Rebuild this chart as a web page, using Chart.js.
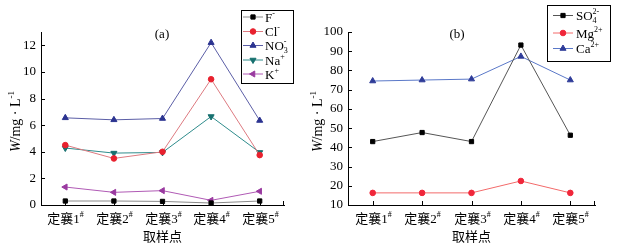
<!DOCTYPE html>
<html>
<head>
<meta charset="utf-8">
<script src="https://cdn.jsdelivr.net/npm/chart.js@4.4.1/dist/chart.umd.min.js"></script>
<style>
  html, body { margin: 0; padding: 0; background: #fff; }
  #wrap { position: relative; width: 618px; height: 249px; }
  .box { position: absolute; top: 0; width: 309px; height: 249px; }
</style>
</head>
<body>
<div id="wrap">
  <div class="box" style="left:0"><canvas id="chartA" width="309" height="249"></canvas></div>
  <div class="box" style="left:309px"><canvas id="chartB" width="309" height="249"></canvas></div>
</div>
<script>
// sampling points
const categories = ['定襄1#', '定襄2#', '定襄3#', '定襄4#', '定襄5#'];

// (a) W / mg·L-1
const fValues   = [0.3, 0.3, 0.27, 0.15, 0.3];
const clValues  = [4.5, 3.5, 4.0, 9.45, 3.75];
const no3Values = [6.55, 6.4, 6.5, 12.2, 6.35];
const naValues  = [4.28, 3.9, 3.95, 6.65, 3.95];
const kValues   = [1.35, 0.95, 1.08, 0.35, 1.03];
const ticksA = [0, 2, 4, 6, 8, 10, 12];
const namesA = [['F', '', '-'], ['Cl', '', '-'], ['NO', '3', '-'], ['Na', '', '+'], ['K', '', '+']];

// (b) W / mg·L-1
const so4Values = [43, 47.7, 43, 93.2, 46.3];
const mgValues  = [16.3, 16.3, 16.3, 22.5, 16.3];
const caValues  = [74.5, 75, 75.5, 87.3, 75];
const ticksB = [10, 20, 30, 40, 50, 60, 70, 80, 90, 100];
const namesB = [['SO', '4', '2-'], ['Mg', '', '2+'], ['Ca', '', '2+']];

const serif = '"Liberation Serif","Noto Sans CJK SC",serif';
Chart.defaults.font.family = serif;
Chart.defaults.color = '#000';

function fontFor(kind, size) {
  if (kind === 'i') return 'italic ' + size + 'px ' + serif;
  if (kind === 'n') return size + 'px ' + serif;
  return Math.round(size * 0.65) + 'px ' + serif;
}

function segWidth(ctx, seg, size) {
  if (seg.k === 'ss') {
    ctx.font = fontFor('sup', size);
    return Math.max(ctx.measureText(seg.t[0]).width, ctx.measureText(seg.t[1]).width);
  }
  ctx.font = fontFor(seg.k, size);
  return ctx.measureText(seg.t).width;
}

// draw text with sub / superscripts, y is the middle of the line
function drawRich(ctx, segs, x, y, size, align) {
  const w = segs.reduce((a, s) => a + segWidth(ctx, s, size), 0);
  let cx = align === 'center' ? x - w / 2 : x;
  const base = y + size * 0.35;
  ctx.textAlign = 'left';
  ctx.textBaseline = 'alphabetic';
  ctx.fillStyle = '#000';
  segs.forEach(s => {
    const sw = segWidth(ctx, s, size);
    ctx.font = fontFor(s.k, size);
    if (s.k === 'ss') {
      ctx.fillText(s.t[0], cx, base + size * 0.25);
      ctx.fillText(s.t[1], cx, base - size * 0.45);
    } else if (s.k === 'sup') {
      ctx.fillText(s.t, cx, base - size * 0.45);
    } else if (s.k === 'sub') {
      ctx.fillText(s.t, cx, base + size * 0.25);
    } else {
      ctx.fillText(s.t, cx, base);
    }
    cx += sw;
  });
}

function ionSegs(name) {
  const segs = [{ t: name[0], k: 'n' }];
  if (name[1] && name[2]) segs.push({ t: [name[1], name[2]], k: 'ss' });
  else if (name[2]) segs.push({ t: name[2], k: 'sup' });
  return segs;
}

const yTitleSegs = [{ t: 'W', k: 'i' }, { t: '/mg \u00b7 L', k: 'n' }, { t: '-1', k: 'sup' }];

function line(ctx, x1, y1, x2, y2) {
  ctx.beginPath();
  ctx.moveTo(x1, y1);
  ctx.lineTo(x2, y2);
  ctx.stroke();
}

const decorPlugin = {
  id: 'decor',
  afterDraw(chart, args, opts) {
    const ctx = chart.ctx;
    const xs = chart.scales.x, ys = chart.scales.y, ca = chart.chartArea;
    ctx.save();
    ctx.strokeStyle = '#000';
    ctx.lineWidth = 1;
    // inward tick marks
    ys.ticks.forEach(t => {
      const py = Math.round(ys.getPixelForValue(t.value)) + 0.5;
      line(ctx, ca.left, py, ca.left + 4, py);
    });
    categories.forEach((c, i) => {
      const px = Math.round(xs.getPixelForValue(i)) + 0.5;
      line(ctx, px, ca.bottom, px, ca.bottom - 4);
      drawRich(ctx, [{ t: c.slice(0, -1), k: 'n' }, { t: c.slice(-1), k: 'sup' }], px, ca.bottom + 13, 13, 'center');
    });
    line(ctx, ca.right - 0.5, ca.bottom, ca.right - 0.5, ca.bottom - 4);
    // panel label
    drawRich(ctx, [{ t: opts.panel, k: 'n' }], opts.panelX, 33, 13, 'center');
    // y title
    ctx.save();
    ctx.translate(opts.yTitleX, (ca.top + ca.bottom) / 2 + 3);
    ctx.rotate(-Math.PI / 2);
    drawRich(ctx, yTitleSegs, 0, 0, 14, 'center');
    ctx.restore();
    // legend
    const b = opts.box;
    ctx.strokeStyle = '#000';
    ctx.strokeRect(b[0] + 0.5, b[1] + 0.5, b[2], b[3]);
    chart.data.datasets.forEach((ds, i) => {
      const ry = opts.rows[i];
      ctx.strokeStyle = ds.borderColor;
      line(ctx, opts.lineX[0], ry, opts.lineX[1], ry);
      ctx.fillStyle = ds.pointBackgroundColor;
      ctx.strokeStyle = ds.pointBorderColor;
      Chart.helpers.drawPoint(ctx, {
        pointStyle: ds.pointStyle, rotation: ds.pointRotation || 0,
        radius: ds.pointRadius, borderWidth: 1
      }, (opts.lineX[0] + opts.lineX[1]) / 2, ry);
      drawRich(ctx, ionSegs(opts.names[i]), opts.textX, ry, 13, 'left');
    });
    ctx.restore();
  }
};

function series(label, data, lineColor, markColor, style, radius, rot) {
  return {
    label: label, data: data,
    borderColor: lineColor, borderWidth: 1,
    pointStyle: style, pointRadius: radius, pointRotation: rot || 0,
    pointBackgroundColor: markColor, pointBorderColor: markColor, pointBorderWidth: 1,
    tension: 0, fill: false
  };
}

function makeChart(id, datasets, yMin, yMax, yTicks, yWidth, padRight, decor) {
  return new Chart(document.getElementById(id), {
    type: 'line',
    data: { labels: categories, datasets: datasets },
    options: {
      responsive: false,
      animation: false,
      layout: { padding: { top: 32, right: padRight, left: 0, bottom: 0 } },
      scales: {
        x: {
          offset: true,
          grid: { display: false, drawTicks: false },
          border: { color: '#000', width: 1 },
          ticks: { display: false },
          title: { display: true, text: '取样点', color: '#000', font: { size: 13 } },
          afterFit(s) { s.height = 44; }
        },
        y: {
          min: yMin, max: yMax,
          grid: { display: false, drawTicks: false },
          border: { color: '#000', width: 1 },
          ticks: { color: '#000', padding: 5, font: { size: 13 } },
          afterBuildTicks(s) { s.ticks = yTicks.map(v => ({ value: v })); },
          afterFit(s) { s.width = yWidth; }
        }
      },
      plugins: { legend: { display: false }, tooltip: { enabled: false }, decor: decor }
    },
    plugins: [decorPlugin]
  });
}

makeChart('chartA', [
  series('F-', fValues, '#8a8a8a', '#000000', 'rect', 3),
  series('Cl-', clValues, '#dd7a80', '#e8212e', 'circle', 2.8),
  series('NO3-', no3Values, '#5b5ea6', '#2b3390', 'triangle', 3.5),
  series('Na+', naValues, '#2f8c8c', '#17706f', 'triangle', 3.5, 180),
  series('K+', kValues, '#b05ab5', '#9a3aa0', 'triangle', 3.5, -90)
], 0, 13, ticksA, 41, 25, {
  panel: '(a)', panelX: 162, yTitleX: 15,
  box: [241, 10, 52, 73], rows: [17, 31.5, 45.5, 60, 74],
  lineX: [243, 263], textX: 265, names: namesA
});

makeChart('chartB', [
  series('SO4 2-', so4Values, '#555555', '#000000', 'rect', 3),
  series('Mg2+', mgValues, '#f36a6a', '#f0263a', 'circle', 2.8),
  series('Ca2+', caValues, '#5a78c8', '#2e3b98', 'triangle', 3.5)
], 10, 100, ticksB, 39, 23, {
  panel: '(b)', panelX: 148, yTitleX: 8,
  box: [238, 5, 63, 56], rows: [15.5, 33, 48.5],
  lineX: [244, 264], textX: 267, names: namesB
});
</script>
</body>
</html>
